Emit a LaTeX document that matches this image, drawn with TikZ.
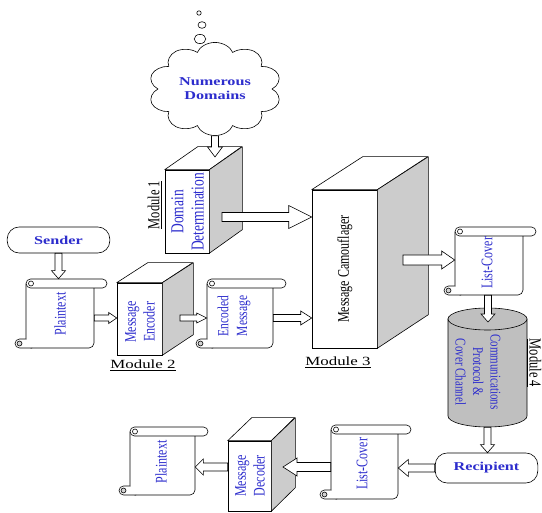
\documentclass[tikz,border=0pt]{standalone}
\usepackage{fontspec}
\setmainfont{Liberation Serif}
\usepackage{tikz}
\usetikzlibrary{shapes, calc}
\definecolor{txtblue}{RGB}{45,45,205}
\tikzset{shaftw/.store in=\shaftw, headw/.store in=\headw, headl/.store in=\headl}
\tikzstyle{frontface} = [rectangle, draw, fill=white, inner sep=0pt]
\tikzstyle{topface} = [draw, fill=white, line join=round]
\tikzstyle{sideface} = [draw, fill=gray!40, line join=round]
\tikzstyle{paper} = [draw, fill=white]
\tikzstyle{terminal} = [rectangle, rounded corners=12, draw, fill=white, xscale=1.35, minimum width=76, minimum height=26, text=txtblue, font=\fontsize{12}{14}\selectfont\bfseries]
\tikzstyle{vtxt} = [rotate=90, yscale=1.35, text=txtblue, align=center, inner sep=0pt]
\tikzstyle{module} = [inner sep=0pt, font=\fontsize{12.5}{14}\selectfont]
\tikzstyle{arrow} = [draw, fill=white, shaftw=3.5pt, headw=7pt, headl=8pt,
  to path={($(\tikztostart)!\shaftw!90:(\tikztotarget)$)
    -- ($($(\tikztotarget)!\headl!(\tikztostart)$)!\shaftw!90:(\tikztotarget)$)
    -- ($($(\tikztotarget)!\headl!(\tikztostart)$)!\headw!90:(\tikztotarget)$)
    -- (\tikztotarget)
    -- ($($(\tikztotarget)!\headl!(\tikztostart)$)!\headw!-90:(\tikztotarget)$)
    -- ($($(\tikztotarget)!\headl!(\tikztostart)$)!\shaftw!-90:(\tikztotarget)$)
    -- ($(\tikztostart)!\shaftw!-90:(\tikztotarget)$) -- cycle}]

% 3D block: name, centre x, centre y, width, height, depth x, depth y
\newcommand{\solidbox}[7]{%
  \node (#1) [frontface, minimum width=#4, minimum height=#5] at (#2,#3) {};
  \draw [topface] (#1.north west) -- ++(#6,-#7) -- ++(#4,0) -- (#1.north east) -- cycle;
  \draw [sideface] (#1.north east) -- ++(#6,-#7) -- ++(0,#5) -- (#1.south east) -- cycle;
}
% scroll: name, left, top, right, bottom of the sheet
\newcommand{\scrollpaper}[5]{%
  \draw [paper, rounded corners=5] (#2,#3+5) -- (#2,#5) -- (#4,#5) -- (#4,#3+5);
  \draw [paper, rounded corners=4.5] (#2+6,#5) -- (#2-11,#5) -- (#2-11,#5-9) -- (#2,#5-9);
  \draw [fill=gray!35] (#2-6.5,#5-4.5) circle [radius=2.5pt];
  \draw [paper, rounded corners=4.5] (#2,#3) rectangle (#4+13,#3+9);
  \draw (#2+5,#3+4.5) circle [radius=2.5pt];
  \node (#1) [inner sep=0pt, minimum width=#4-#2, minimum height=#5-#3] at ({(#2+#4)/2},{(#3+#5)/2}) {};
}

\begin{document}
\begin{tikzpicture}[x=1pt, y=-1pt, line width=0.6pt, font=\fontsize{12}{14}\selectfont]
\useasboundingbox (0,0) rectangle (542,513);

% thought bubbles
\draw (199,13) circle [x radius=2.2pt, y radius=2.2pt];
\draw (202,25) circle [x radius=4pt, y radius=3.3pt];
\draw (200,39) circle [x radius=5.8pt, y radius=4.6pt];
\node (cloud) [cloud, cloud puffs=10, aspect=1.1, draw, fill=white, xscale=1.35, minimum width=80, minimum height=74, text=txtblue, align=center, font=\fontsize{12}{14}\selectfont\bfseries] at (215,89) {Numerous\\Domains};

\solidbox{dom}{187}{211.5}{44}{83}{33}{23}
\solidbox{enc}{139.5}{319}{45}{72}{31}{20}
\solidbox{cam}{344.5}{269}{65}{158}{51}{33}
\solidbox{dec}{249.5}{476}{43}{70}{24}{23}

\scrollpaper{ptxt}{26}{279}{94}{348}
\scrollpaper{emsg}{207}{279}{273}{348}
\scrollpaper{lc1}{455}{227}{523}{295}
\scrollpaper{lc2}{331}{425}{398}{499}
\scrollpaper{pt2}{130}{427}{195}{495}

\node (sender) [terminal] at (58.5,240) {Sender};
\node (recip) [terminal, minimum height=30] at (486.5,468) {Recipient};

% channel drum
\node (chan) [inner sep=0pt, minimum width=79, minimum height=119] at (487.5,367.5) {};
\draw [fill=gray!50] (448,319) -- (448,416) arc [start angle=180, end angle=360, x radius=39.5pt, y radius=11pt] -- (527,319) -- cycle;
\draw [fill=gray!50] (487.5,319) ellipse [x radius=39.5pt, y radius=11pt];

\node (domtxt) [vtxt, font=\fontsize{13.5}{15}\selectfont] at (187.5,212) {Domain\\Determination};
\node (enctxt) [vtxt] at (140,322) {Message\\Encoder};
\node (camtxt) [vtxt, text=black] at (345,269) {Message Camouflager};
\node (dectxt) [vtxt] at (250,476) {Message\\Decoder};
\node (ptxt-t) [vtxt] at (60,314) {Plaintext};
\node (emsg-t) [vtxt, font=\fontsize{11.5}{14}\selectfont] at (234,316) {Encoded\\Message};
\node (lc1-t) [vtxt] at (487,263) {List-Cover};
\node (lc2-t) [vtxt] at (362,464) {List-Cover};
\node (pt2-t) [vtxt] at (161,462) {Plaintext};
\node (chantxt) [vtxt, rotate=180, font=\fontsize{11}{13}\selectfont] at (478,372) {Communications\\Protocol \&\\Cover Channel};

\node (mod1) [module, rotate=90, yscale=1.35] at (155,205) {\underline{Module 1}};
\node (mod2) [module, xscale=1.35] at (143,365) {\underline{Module 2}};
\node (mod3) [module, xscale=1.35] at (338,362) {\underline{Module 3}};
\node (mod4) [module, rotate=-90, yscale=1.35] at (534,363) {\underline{Module 4}};

%---------------------------------ARROWS
\coordinate (dom-in) at (215,157);
\coordinate (dom-out) at (222,217);
\coordinate (enc-out) at (180,318);
\coordinate (cam-out) at (403,260);
\coordinate (chan-in) at (488,322);
\coordinate (dec-in) at (283,467);

\draw [arrow, headw=7.5pt, headl=10pt] (cloud.south) to (dom-in);
\draw [arrow, shaftw=4.5pt, headw=11.5pt, headl=23pt] (dom-out) to (dom-out -| cam.west);
\draw [arrow] (sender.south) to (sender.south |- ptxt.north);
\draw [arrow, shaftw=3pt, headw=5.5pt] (ptxt.east |- enc-out) to (enc-out -| enc.west);
\draw [arrow, shaftw=3pt, headw=5pt, headl=10pt] (enc-out) to (enc-out -| emsg.west);
\draw [arrow, headl=11pt] (emsg.east |- enc-out) to (enc-out -| cam.west);
\draw [arrow, shaftw=5pt, headw=9pt, headl=13pt] (cam-out) to (cam-out -| lc1.west);
\draw [arrow] (lc1.south -| chan-in) to (chan-in);
\draw [arrow] (chan.south) to (chan.south |- recip.north);
\draw [arrow, shaftw=4pt, headw=8.5pt, headl=10pt] (recip.west) to (recip.west -| lc2.east);
\draw [arrow, shaftw=4.5pt, headw=9pt, headl=14pt] (lc2.west |- dec-in) to (dec-in);
\draw [arrow, shaftw=4pt, headw=8pt] (dec.west |- dec-in) to (dec-in -| pt2.east);

\end{tikzpicture}
\end{document}
